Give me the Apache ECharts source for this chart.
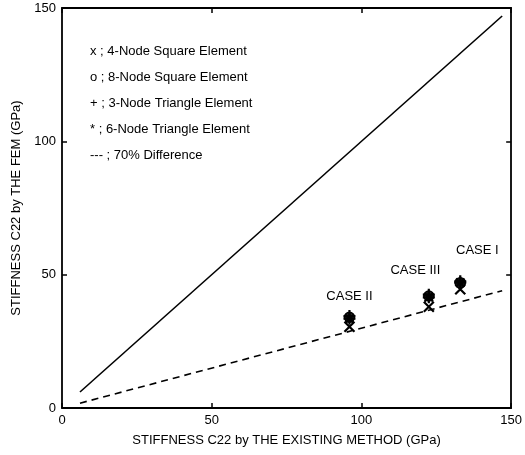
<!DOCTYPE html>
<html>
<head>
<meta charset="utf-8">
<script src="https://cdn.jsdelivr.net/npm/echarts@6/dist/echarts.min.js"></script>
<style>
  html, body { margin: 0; padding: 0; background: #fff; }
  #chart { width: 525px; height: 455px; }
</style>
</head>
<body>
<div id="chart"></div>
<script>
// x positions of the three cases (Case I, Case II, Case III)
var caseNames = ['CASE I', 'CASE II', 'CASE III'];
var caseX = [133, 96, 122.5];
// FEM stiffness per element type
var sq4 = [44.5, 30.5, 38];    // x ; 4-node square
var sq8 = [47, 34, 42];        // o ; 8-node square
var tri3 = [47.5, 34.5, 42.5]; // + ; 3-node triangle
var tri6 = [47, 33.5, 41.5];   // * ; 6-node triangle
// case label anchor points
var labelX = [138.7, 96, 118];
var labelY = [59, 42, 51.5];
// reference lines
var lineX = [6, 147];
var equalY = [6, 147];
var diff70Y = [1.8, 44];
var legendLines = ['x ; 4-Node Square Element', 'o ; 8-Node Square Element',
  '+ ; 3-Node Triangle Element', '* ; 6-Node Triangle Element', '--- ; 70% Difference'];

var FONT = '"Liberation Sans", Arial, sans-serif';

function pts(xs, ys) {
  var out = [];
  for (var i = 0; i < xs.length; i++) out.push([xs[i], ys[i]]);
  return out;
}

var chart = echarts.init(document.getElementById('chart'));

var markStyle = { color: 'none', borderColor: '#000', borderWidth: 2.2, opacity: 1 };

function axis(pos, show) {
  return {
    type: 'value', min: 0, max: 150, interval: 50, position: pos,
    axisLine: { show: true, onZero: false, lineStyle: { color: '#000', width: 1.8 } },
    axisTick: { show: true, inside: true, length: 5, lineStyle: { color: '#000', width: 1.5 } },
    axisLabel: { show: show, color: '#000', fontSize: 13, fontFamily: FONT, margin: 6 },
    splitLine: { show: false }
  };
}

var xMain = axis('bottom', true);
xMain.name = 'STIFFNESS C22 by THE EXISTING METHOD (GPa)';
xMain.nameLocation = 'middle';
xMain.nameGap = 26;
xMain.nameTextStyle = { color: '#000', fontSize: 13, fontFamily: FONT };
var yMain = axis('left', true);
yMain.name = 'STIFFNESS C22 by THE FEM (GPa)';
yMain.nameLocation = 'middle';
yMain.nameGap = 33;
yMain.nameTextStyle = { color: '#000', fontSize: 13, fontFamily: FONT };

var legendGraphics = [];
for (var i = 0; i < legendLines.length; i++) {
  legendGraphics.push({
    type: 'text', left: 90, top: 45 + i * 26,
    style: { text: legendLines[i], fill: '#000', fontSize: 13, fontFamily: FONT }
  });
}

chart.setOption({
  animation: false,
  grid: { left: 62, right: 12, top: 8, bottom: 47 },
  xAxis: [xMain, axis('top', false)],
  yAxis: [yMain, axis('right', false)],
  graphic: legendGraphics,
  series: [
    {
      type: 'line', data: pts(lineX, equalY), symbol: 'none',
      lineStyle: { color: '#000', width: 1.6 }
    },
    {
      type: 'line', data: pts(lineX, diff70Y), symbol: 'none',
      lineStyle: { color: '#000', width: 1.6, type: [7, 5] }
    },
    {
      type: 'scatter', data: pts(caseX, sq4), symbolSize: 10,
      symbol: 'path://M0,0L10,10M10,0L0,10', itemStyle: markStyle
    },
    {
      type: 'scatter', data: pts(caseX, sq8), symbolSize: 10,
      symbol: 'circle', itemStyle: { color: '#222', borderColor: '#000', borderWidth: 1.5, opacity: 1 }
    },
    {
      type: 'scatter', data: pts(caseX, tri3), symbolSize: 12,
      symbol: 'path://M5,0L5,10M0,5L10,5', itemStyle: markStyle
    },
    {
      type: 'scatter', data: pts(caseX, tri6), symbolSize: 12,
      symbol: 'path://M5,0L5,10M0,5L10,5M1.5,1.5L8.5,8.5M8.5,1.5L1.5,8.5', itemStyle: markStyle
    },
    {
      type: 'scatter', data: pts(labelX, labelY).map(function (p, k) {
        return { value: p, name: caseNames[k] };
      }),
      symbolSize: 1,
      itemStyle: { color: 'rgba(0,0,0,0)', opacity: 1 },
      label: {
        show: true, position: 'inside', formatter: '{b}',
        color: '#000', fontSize: 13, fontFamily: FONT,
        textBorderWidth: 0
      }
    }
  ]
});
</script>
</body>
</html>
